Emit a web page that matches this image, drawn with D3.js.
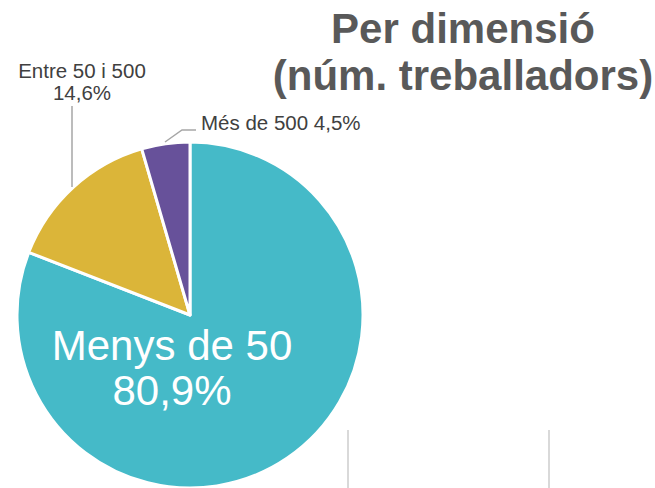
<!DOCTYPE html>
<html>
<head>
<meta charset="utf-8">
<script src="https://cdn.jsdelivr.net/npm/d3@7"></script>
<style>
  body { margin: 0; background: #fff; }
  text { font-family: "Liberation Sans", Arial, sans-serif; }
</style>
</head>
<body>
<div id="chart"></div>
<script>
// Pie data
const categories = ["Menys de 50", "Entre 50 i 500", "Més de 500"];
const shares = [80.9, 14.6, 4.5];
const colors = ["#45BAC8", "#DBB539", "#67519A"];

const width = 655, height = 488;
const cx = 190, cy = 315, radius = 173;

const svg = d3.select("#chart")
  .append("svg")
  .attr("width", width)
  .attr("height", height);

// faint grid lines at the bottom right
svg.selectAll(".grid")
  .data([348, 549])
  .enter().append("line")
  .attr("x1", d => d).attr("x2", d => d)
  .attr("y1", 430).attr("y2", height)
  .attr("stroke", "#D9D9D9")
  .attr("stroke-width", 2);

const data = categories.map((c, i) => ({ name: c, value: shares[i], color: colors[i] }));

const pie = d3.pie().sort(null).value(d => d.value);
const arc = d3.arc().innerRadius(0).outerRadius(radius);
const arcs = pie(data);

const g = svg.append("g").attr("transform", `translate(${cx},${cy})`);

g.selectAll("path")
  .data(arcs)
  .enter().append("path")
  .attr("d", arc)
  .attr("fill", d => d.data.color)
  .attr("stroke", "#fff")
  .attr("stroke-width", 3)
  .attr("stroke-linejoin", "round");

const fmt = v => v.toFixed(1).replace(".", ",") + "%";

// big inside label
const inside = g.append("text")
  .attr("text-anchor", "middle")
  .attr("fill", "#fff")
  .attr("font-size", "42px");
inside.append("tspan").attr("x", -18).attr("y", 45).text(categories[0]);
inside.append("tspan").attr("x", -18).attr("y", 90).text(fmt(shares[0]));

// leader lines
const leader = "#A6A6A6";
svg.append("line")
  .attr("x1", 72).attr("x2", 72)
  .attr("y1", 106).attr("y2", 187)
  .attr("stroke", leader).attr("stroke-width", 1.5);

svg.append("polyline")
  .attr("points", "165,142 182,130 196,130")
  .attr("fill", "none")
  .attr("stroke", leader).attr("stroke-width", 1.5);

// outside labels
const lbl = svg.append("text")
  .attr("text-anchor", "middle")
  .attr("fill", "#404040")
  .attr("font-size", "20.5px");
lbl.append("tspan").attr("x", 82).attr("y", 78).text(categories[1]);
lbl.append("tspan").attr("x", 82).attr("y", 100).text(fmt(shares[1]));

svg.append("text")
  .attr("x", 201).attr("y", 130)
  .attr("fill", "#404040")
  .attr("font-size", "20.5px")
  .text(categories[2] + " " + fmt(shares[2]));

// title
const title = svg.append("text")
  .attr("text-anchor", "middle")
  .attr("fill", "#595959")
  .attr("font-size", "42px")
  .attr("font-weight", "bold");
title.append("tspan").attr("x", 463).attr("y", 43).text("Per dimensió");
title.append("tspan").attr("x", 463).attr("y", 90).text("(núm. treballadors)");
</script>
</body>
</html>
